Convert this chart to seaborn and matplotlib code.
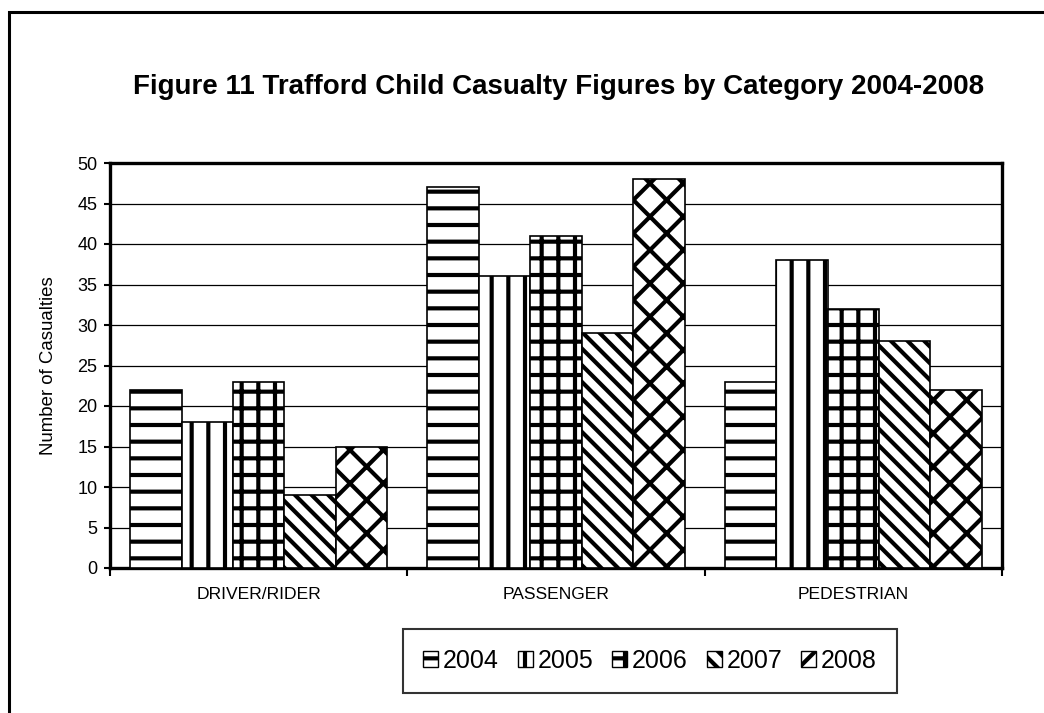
import pandas as pd
import matplotlib
matplotlib.use("Agg")
import matplotlib.pyplot as plt
import seaborn as sns
from matplotlib.patches import Patch, Rectangle

# data
categories = ["DRIVER/RIDER", "PASSENGER", "PEDESTRIAN"]
years = ["2004", "2005", "2006", "2007", "2008"]
casualties_2004 = [22, 47, 23]
casualties_2005 = [18, 36, 38]
casualties_2006 = [23, 41, 32]
casualties_2007 = [9, 29, 28]
casualties_2008 = [15, 48, 22]
hatches = ["-", "|", "+", "\\\\", "x"]

series = [casualties_2004, casualties_2005, casualties_2006, casualties_2007, casualties_2008]
rows = []
for year, vals in zip(years, series):
    for cat, v in zip(categories, vals):
        rows.append({"Category": cat, "Year": year, "Casualties": v})
df = pd.DataFrame(rows)

sns.set_theme(style="white")
plt.rcParams["font.family"] = ["Liberation Sans", "DejaVu Sans"]
plt.rcParams["text.color"] = "black"
plt.rcParams["axes.labelcolor"] = "black"
plt.rcParams["xtick.color"] = "black"
plt.rcParams["ytick.color"] = "black"
plt.rcParams["hatch.linewidth"] = 3.0
plt.rcParams["hatch.color"] = "black"

fig = plt.figure(figsize=(10.44, 7.13), dpi=100)
ax = fig.add_axes([110 / 1044, 1 - 568 / 713, (1002 - 110) / 1044, (568 - 163) / 713])

sns.barplot(data=df, x="Category", y="Casualties", hue="Year", order=categories,
            hue_order=years, width=0.865, gap=0, palette=["white"] * 5,
            edgecolor="#222222", linewidth=1.2, legend=False, ax=ax, zorder=3)

for cont, h in zip(ax.containers, hatches):
    for bar in cont:
        bar.set_hatch(h)
        bar.set_facecolor("white")
        bar.set_edgecolor("black")

ax.set_ylim(0, 50)
ax.set_xlim(-0.5, 2.5)
ax.set_yticks(range(0, 51, 5))
ax.yaxis.grid(True, color="black", linewidth=0.9)
ax.set_axisbelow(True)
for s in ax.spines.values():
    s.set_visible(True)
    s.set_color("black")
    s.set_linewidth(2.4)

ax.tick_params(axis="y", which="major", left=True, length=4, width=1.5, labelsize=13, pad=5)
ax.tick_params(axis="x", which="major", length=0, labelsize=12.6, pad=14)
ax.set_xticks([-0.5, 0.5, 1.5, 2.5], minor=True)
ax.tick_params(axis="x", which="minor", bottom=True, length=6, width=1.5)
ax.set_xlabel("")
ax.set_ylabel("Number of Casualties", fontsize=13.4, labelpad=15)

fig.text(559 / 1044, 1 - 87 / 713, "Figure 11 Trafford Child Casualty Figures by Category 2004-2008",
         ha="center", va="center", fontsize=20, fontweight="bold")

handles = [Patch(facecolor="white", edgecolor="black", hatch=h, label=y) for y, h in zip(years, hatches)]
leg = fig.legend(handles=handles, loc="center", bbox_to_anchor=(650 / 1044, 1 - 661 / 713),
                 ncol=5, fontsize=18, frameon=True, fancybox=False, handlelength=0.6,
                 handleheight=0.6, handletextpad=0.2, columnspacing=0.75, borderpad=0.8)
leg.get_frame().set_edgecolor("black")
leg.get_frame().set_linewidth(1.5)

# outer chart frame (right and bottom run past the image edge)
fig.patches.append(Rectangle((9 / 1044, -0.1), 1.2, 1 - 12 / 713 + 0.1, transform=fig.transFigure,
                             fill=False, edgecolor="black", linewidth=2.2))

fig.savefig("out.png", dpi=100)
